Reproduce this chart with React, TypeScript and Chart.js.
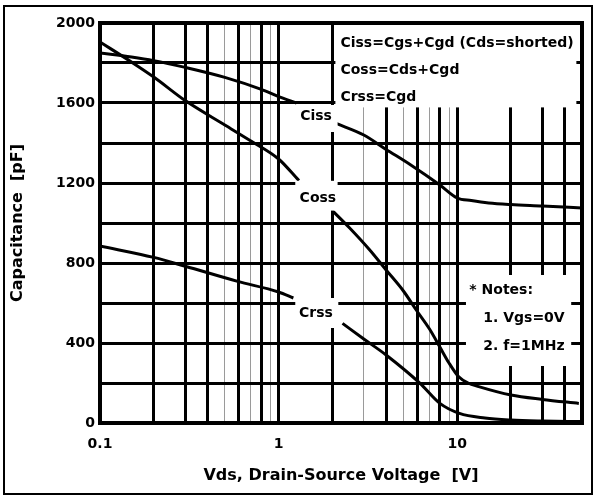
import React, { useEffect, useRef } from "react";
import { Chart, registerables } from "chart.js";
Chart.register(...registerables);

// ---- data ----
const cissV = [0.1, 0.15, 0.2, 0.3, 0.5, 0.8, 1.0, 1.26, 1.6, 2.1, 3.0, 4.0, 5.5, 8.0, 10, 12, 15, 20, 30, 50];
const ciss = [1850, 1830, 1812, 1778, 1728, 1668, 1632, 1600, null, 1498, 1440, 1368, 1290, 1190, 1125, 1112, 1100, 1092, 1085, 1075];

const cossV = [0.1, 0.15, 0.2, 0.3, 0.5, 0.7, 1.0, 1.3, 1.6, 2.0, 2.5, 3.24, 4.0, 5.0, 5.9, 7.0, 8.0, 9.0, 10.2, 11.5, 13.2, 20, 30, 48];
const coss = [1905, 1805, 1730, 1612, 1490, 1410, 1320, 1212, null, 1062, 975, 865, 765, 660, 565, 470, 380, 300, 231, 200, 182, 140, 118, 98];

const crssV = [0.1, 0.2, 0.3, 0.59, 1.0, 1.21, 1.6, 2.28, 3.0, 4.0, 6.2, 8.0, 10.3, 14.3, 20, 30, 50];
const crss = [885, 828, 784, 708, 655, 625, null, 498, 420, 340, 198, 98, 48, 25, 15, 10, 7];

const xGridValues = [0.1, 0.2, 0.3, 0.4, 0.5, 0.6, 0.7, 0.8, 0.9, 1, 2, 3, 4, 5, 6, 7, 8, 9, 10, 20, 30, 40, 50];
const xThinValues = [0.5, 0.7, 0.9, 3, 5, 7, 9];
const xLabelValues = [0.1, 1, 10];
const yLabelStep = 400;

const curveLabels = ["Ciss", "Coss", "Crss"];
const curveLabelV = [1.62, 1.66, 1.62];
const curveLabelC = [1535, 1125, 550];

const legendLines = ["Ciss=Cgs+Cgd (Cds=shorted)", "Coss=Cds+Cgd", "Crss=Cgd"];
const legendLineC = [1900, 1765, 1630];
const legendV = 2.22;

const noteLines = ["* Notes:", "1. Vgs=0V", "2. f=1MHz"];
const noteV = [11.7, 14.0, 14.0];
const noteC = [665, 525, 385];

// white label boxes [vMin, vMax, cMin, cMax]
const maskBoxes = [
  [2.08, 46.5, 1578, 1995],
  [1.24, 2.14, 1455, 1590],
  [1.24, 2.14, 1062, 1211],
  [1.24, 2.16, 475, 625],
  [11.2, 43.5, 285, 740],
];

const FONT = 'bold 14px "DejaVu Sans"';

function pts(xs: number[], ys: (number | null)[]) {
  return xs.map((x, i) => ({ x, y: ys[i] }));
}

const overlay = {
  id: "overlay",
  beforeDraw(chart: any) {
    const { ctx } = chart;
    ctx.save();
    ctx.fillStyle = "#fff";
    ctx.fillRect(0, 0, chart.width, chart.height);
    ctx.restore();
  },
  afterDatasetsDraw(chart: any) {
    const { ctx, chartArea } = chart;
    const xs = chart.scales.x;
    const ys = chart.scales.y;
    ctx.save();
    ctx.fillStyle = "#fff";
    for (const b of maskBoxes) {
      const x1 = xs.getPixelForValue(b[0]);
      const x2 = xs.getPixelForValue(b[1]);
      const y1 = ys.getPixelForValue(b[3]);
      const y2 = ys.getPixelForValue(b[2]);
      ctx.fillRect(x1, y1, x2 - x1, y2 - y1);
    }
    ctx.fillStyle = "#000";
    ctx.font = FONT;
    ctx.textBaseline = "middle";
    ctx.textAlign = "center";
    curveLabels.forEach((t, i) => {
      ctx.fillText(t, xs.getPixelForValue(curveLabelV[i]), ys.getPixelForValue(curveLabelC[i]));
    });
    ctx.textAlign = "left";
    legendLines.forEach((t, i) => {
      ctx.fillText(t, xs.getPixelForValue(legendV), ys.getPixelForValue(legendLineC[i]));
    });
    noteLines.forEach((t, i) => {
      ctx.fillText(t, xs.getPixelForValue(noteV[i]), ys.getPixelForValue(noteC[i]));
    });
    // plot frame
    ctx.strokeStyle = "#000";
    ctx.lineWidth = 4;
    ctx.strokeRect(chartArea.left, chartArea.top, chartArea.right - chartArea.left, chartArea.bottom - chartArea.top);
    ctx.restore();
  },
  afterDraw(chart: any) {
    const { ctx } = chart;
    ctx.save();
    ctx.strokeStyle = "#000";
    ctx.lineWidth = 2;
    ctx.strokeRect(4, 6, 588, 488);
    ctx.restore();
  },
};

export default function App() {
  const ref = useRef<HTMLCanvasElement>(null);
  useEffect(() => {
    if (!ref.current) return;
    const lineDs = (label: string, data: any[]) => ({
      label,
      data,
      borderColor: "#000",
      borderWidth: 3,
      pointRadius: 0,
      fill: false,
      spanGaps: false,
      cubicInterpolationMode: "monotone" as const,
    });
    const chart = new Chart(ref.current, {
      type: "line",
      data: {
        datasets: [
          lineDs("Ciss", pts(cissV, ciss)),
          lineDs("Coss", pts(cossV, coss)),
          lineDs("Crss", pts(crssV, crss)),
        ],
      },
      options: {
        responsive: false,
        animation: false,
        events: [],
        layout: { padding: { top: 23, right: 8, left: 0, bottom: 0 } },
        plugins: { legend: { display: false }, tooltip: { enabled: false } },
        scales: {
          x: {
            type: "logarithmic",
            min: 0.1,
            max: 50,
            afterBuildTicks: (scale: any) => {
              scale.ticks = xGridValues.map((v) => ({ value: v }));
            },
            afterFit: (scale: any) => {
              scale.height = 74;
            },
            ticks: {
              autoSkip: false,
              maxRotation: 0,
              padding: 13,
              color: "#000",
              font: { family: "DejaVu Sans", size: 14, weight: "bold" },
              callback: (v: any) => (xLabelValues.includes(Number(v)) ? String(v) : ""),
            },
            grid: {
              drawTicks: false,
              color: (c: any) => (xThinValues.includes(c.tick?.value) ? "#9a9a9a" : "#000"),
              lineWidth: (c: any) => (xThinValues.includes(c.tick?.value) ? 1 : 3),
            },
            border: { display: false },
            title: {
              display: true,
              text: "Vds, Drain-Source Voltage  [V]",
              color: "#000",
              font: { family: "DejaVu Sans", size: 16, weight: "bold" },
              padding: { top: 0, bottom: 12 },
            },
          },
          y: {
            type: "linear",
            min: 0,
            max: 2000,
            afterFit: (scale: any) => {
              scale.width = 100;
            },
            ticks: {
              stepSize: 200,
              padding: 5,
              color: "#000",
              font: { family: "DejaVu Sans", size: 14, weight: "bold" },
              callback: (v: any) => (Number(v) % yLabelStep === 0 ? String(v) : ""),
            },
            grid: { drawTicks: false, color: "#000", lineWidth: 3 },
            border: { display: false },
            title: {
              display: true,
              text: "Capacitance  [pF]",
              color: "#000",
              font: { family: "DejaVu Sans", size: 16, weight: "bold" },
              padding: { top: 8, bottom: 0 },
            },
          },
        },
      },
      plugins: [overlay],
    });
    return () => chart.destroy();
  }, []);
  return (
    <div style={{ position: "fixed", left: 0, top: 0, width: 595, height: 497 }}>
      <canvas ref={ref} width={595} height={497} style={{ display: "block" }} />
    </div>
  );
}
